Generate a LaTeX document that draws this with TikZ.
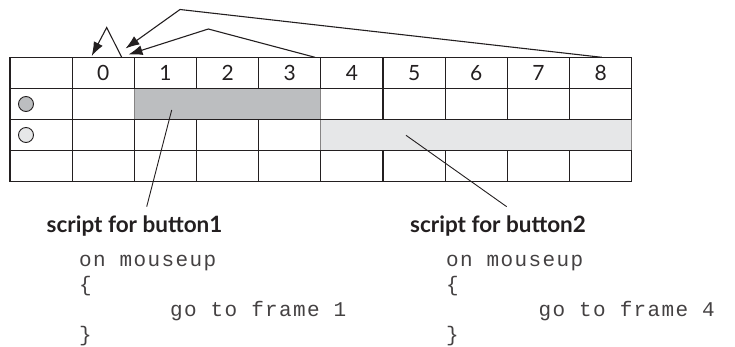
\documentclass[tikz,border=0pt]{standalone}
\usepackage{fontspec}
\setmainfont{Lato}
\newfontfamily\codefont[LetterSpace=6.5]{Liberation Mono}
\usetikzlibrary{arrows.meta}

\definecolor{ink}{HTML}{231F20}
\definecolor{barDark}{HTML}{BCBEC0}
\definecolor{barLight}{HTML}{E6E7E8}

\tikzset{
  gridline/.style={ink,line width=1.2pt},
  bar/.style={draw=ink!55,line width=0.6pt},
  jump/.style={ink,line width=1.1pt,-{Latex[length=14pt,width=10pt]}},
  pointer/.style={ink,line width=0.9pt},
  framenum/.style={font=\fontsize{21}{24}\selectfont,text=ink,inner sep=0pt},
  scripttitle/.style={font=\fontsize{22.5}{26}\selectfont\bfseries,text=ink,anchor=base west,inner sep=0pt},
  codeline/.style={font=\codefont\fontsize{21}{25}\selectfont,text=ink!85,anchor=base west,inner sep=0pt}
}

\begin{document}
\begin{tikzpicture}[x=1pt,y=-1pt]
    \useasboundingbox (0,0) rectangle (735,347);
    \foreach \i in {0,...,10}
        \draw[gridline] ({10+62.17*\i},57.3) -- ({10+62.17*\i},181.7);
    \filldraw[bar,fill=barDark] (134.3,88.4) rectangle (320.7,119.5);
    \filldraw[bar,fill=barLight] (320.7,119.5) rectangle (631.7,150.6);
    \foreach \j in {0,...,4}
        \draw[gridline] (10,{57.3+31.1*\j}) -- (631.7,{57.3+31.1*\j});
    \foreach \n in {0,...,8}
        \node[framenum] (f\n) at ({10+62.17*(\n+1.5)},73) {\n};
    \draw[ink,line width=0.9pt,fill=barDark] (26,104) circle[radius=7.5pt];
    \draw[ink,line width=0.9pt,fill=barLight] (26,135) circle[radius=7.5pt];

    \coordinate (from8) at (601.7,57.3);
    \coordinate (peak8) at (180,9.5);
    \coordinate (tip8) at (125.5,48.5);
    \coordinate (from4) at (315,57.3);
    \coordinate (peak4) at (208.3,29);
    \coordinate (tip4) at (128.5,54.5);
    \coordinate (from0) at (121.7,57.3);
    \coordinate (peak0) at (106.7,27.5);
    \coordinate (tip0) at (91.7,56);
    \draw[jump] (from8) -- (peak8) -- (tip8);
    \draw[jump] (from4) -- (peak4) -- (tip4);
    \draw[jump] (from0) -- (peak0) -- (tip0);

    \node[scripttitle] (title1) at (46.5,232.3) {script for button1};
    \node[scripttitle] (title2) at (410,232.3) {script for button2};
    \coordinate (btn1) at (171.7,110);
    \coordinate (end1) at (146.7,206.7);
    \coordinate (btn2) at (406,135.3);
    \coordinate (end2) at (506.7,206.7);
    \draw[pointer] (btn1) -- (end1);
    \draw[pointer] (btn2) -- (end2);

    \node[codeline] (on1) at (79,266) {on mouseup};
    \node[codeline] (open1) at (79,291) {\{};
    \node[codeline] (go1) at (170,316.5) {go to frame 1};
    \node[codeline] (close1) at (79,341) {\}};
    \node[codeline] (on2) at (446,266) {on mouseup};
    \node[codeline] (open2) at (446,291) {\{};
    \node[codeline] (go2) at (538.5,316.5) {go to frame 4};
    \node[codeline] (close2) at (446,341) {\}};
\end{tikzpicture}
\end{document}
